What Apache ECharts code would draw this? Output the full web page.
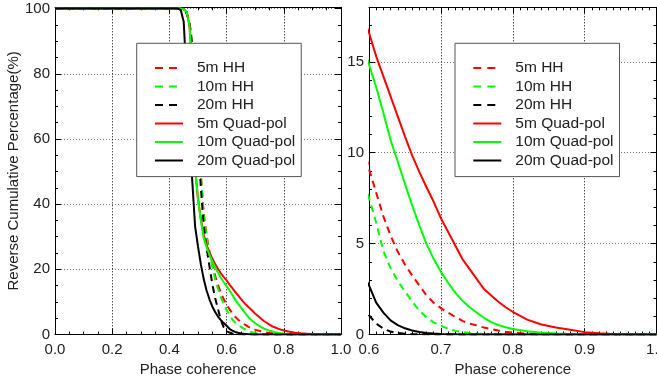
<!DOCTYPE html>
<html><head><meta charset="utf-8">
<script src="https://cdn.jsdelivr.net/npm/echarts@6/dist/echarts.min.js"></script>
<style>html,body{margin:0;padding:0;background:#fff}#c{width:657px;height:384px}</style>
</head><body><div id="c"></div>
<script>
// Phase coherence sample points
const coherence = [0.00,0.42,0.43,0.44,0.45,0.46,0.47,0.48,0.49,0.50,
  0.51,0.52,0.53,0.54,0.55,0.56,0.57,0.58,0.59,0.60,
  0.61,0.62,0.63,0.64,0.65,0.66,0.67,0.68,0.69,0.70,
  0.71,0.72,0.73,0.74,0.75,0.76,0.77,0.78,0.79,0.80,
  0.82,0.84,0.86,0.88,0.90,0.92,0.94,0.96,0.98,1.00];
// Reverse cumulative percentage (%)
const hh5m = [100,100,100,100,99.8,99,96,89,76,62,
  49,37,30.5,25.5,21.5,18,15.2,12.8,10.8,9.1,
  7.8,6.5,5.45,4.55,3.85,3.25,2.7,2.15,1.75,1.45,
  1.2,0.97,0.75,0.6,0.5,0.38,0.3,0.22,0.15,0.1,
  0.05,0.02,0.01,0,0,0,0,0,0,0];
const hh10m = [100,100,100,100,99.8,99,96,89,76,62,
  49,36.5,30,25,20.7,17,14,11.5,9.4,7.5,
  6.15,4.6,3.65,2.95,2.37,1.82,1.31,0.95,0.67,0.48,
  0.32,0.2,0.13,0.08,0.05,0.03,0.02,0.01,0.01,0,
  0,0,0,0,0,0,0,0,0,0];
const hh20m = [100,100,100,100,99.7,98.5,96,88,73,60,
  45,33.5,26.5,21,15.5,11.2,7.8,4.4,2.2,1.05,
  0.6,0.32,0.16,0.08,0.04,0.02,0.01,0.01,0,0,
  0,0,0,0,0,0,0,0,0,0,
  0,0,0,0,0,0,0,0,0,0];
const qp5m = [100,100,100,100,99.8,99,95,82,51,41.5,
  35.5,30.5,27.5,25.2,23.3,21.6,20.1,18.8,17.6,16.6,
  15.3,14.2,13.1,12.0,10.9,9.85,8.95,8.1,7.3,6.4,
  5.65,4.9,4.15,3.6,3.05,2.5,2.15,1.8,1.5,1.25,
  0.82,0.55,0.38,0.26,0.13,0.07,0.03,0.01,0,0];
const qp10m = [100,100,100,100,99.8,99,95,82,51,41.5,
  35,29.5,26.8,24.4,22.4,20.5,19,17.4,16.1,14.85,
  13.6,12.2,10.7,9.5,8.3,7.1,6.0,4.97,4.15,3.45,
  2.85,2.3,1.85,1.5,1.2,0.92,0.68,0.52,0.4,0.3,
  0.18,0.1,0.06,0.03,0.01,0,0,0,0,0];
const qp20m = [100,100,100,99.5,96,79,63,47,33,27,
  21.5,17,13.5,10.8,8.6,6.9,5.5,4.4,3.5,2.7,
  1.75,1.2,0.78,0.52,0.34,0.22,0.14,0.08,0.05,0.03,
  0.02,0.01,0,0,0,0,0,0,0,0,
  0,0,0,0,0,0,0,0,0,0];

const seriesNames = ['5m HH','10m HH','20m HH','5m Quad-pol','10m Quad-pol','20m Quad-pol'];
const seriesValues = [hh5m, hh10m, hh20m, qp5m, qp10m, qp20m];
const seriesColors = ['#ff0000','#00ff00','#000000','#ff0000','#00ff00','#000000'];
const seriesDashed = [true,true,true,false,false,false];

const xTitle = 'Phase coherence';
const yTitle = 'Reverse Cumulative Percentage(%)';
const leftX = {min:0, max:1, interval:0.2, minor:4};
const rightX = {min:0.6, max:1, interval:0.1, minor:10};
const leftY = {min:0, max:100.4, interval:20, minor:4};
const rightY = {min:0, max:18, interval:5, minor:5};

const FONT = '"Liberation Sans", Arial, Helvetica, sans-serif';
const TXT = '#222';

function xAxisCfg(grid, r, pos, labels) {
  return {
    type:'value', gridIndex:grid, position:pos, min:r.min, max:r.max, interval:r.interval,
    axisLine:{show:true, onZero:false, lineStyle:{color:'#000', width:1}},
    axisTick:{show:true, inside:true, length:6, lineStyle:{color:'#000'}},
    minorTick:{show:true, splitNumber:r.minor, length:3, lineStyle:{color:'#000'}},
    splitLine:{show:labels, lineStyle:{type:[1,2], color:'#000', width:1}},
    axisLabel:{show:labels, fontSize:15, fontFamily:FONT, color:TXT, margin:8,
      formatter:v=>v.toFixed(1)},
    name: labels ? xTitle : '', nameLocation:'middle', nameGap:28,
    nameTextStyle:{fontSize:15, fontFamily:FONT, color:TXT}
  };
}
function yAxisCfg(grid, r, pos, labels, withName) {
  return {
    type:'value', gridIndex:grid, position:pos, min:r.min, max:r.max, interval:r.interval,
    axisLine:{show:true, onZero:false, lineStyle:{color:'#000', width:1}},
    axisTick:{show:true, inside:true, length:6, lineStyle:{color:'#000'}},
    minorTick:{show:true, splitNumber:r.minor, length:3, lineStyle:{color:'#000'}},
    splitLine:{show:labels, lineStyle:{type:[1,2], color:'#777', width:1}},
    axisLabel:{show:labels, fontSize:15, fontFamily:FONT, color:TXT, margin:5,
      showMaxLabel:false, formatter:v=>String(Math.round(v))},
    name: withName ? yTitle : '', nameLocation:'middle', nameGap:28,
    nameTextStyle:{fontSize:15, fontFamily:FONT, color:TXT}
  };
}

const series = [];
[0,1].forEach(g => {
  seriesNames.forEach((name, i) => {
    series.push({
      type:'line', name, xAxisIndex:g, yAxisIndex:g,
      data: coherence.map((x, k) => [x, seriesValues[i][k]]),
      symbol:'none', showSymbol:false, clip:true, z:2,
      lineStyle:{color:seriesColors[i], width:2, type: seriesDashed[i] ? [7,5] : 'solid'},
      itemStyle:{color:seriesColors[i]}
    });
  });
});

function legendCfg(left) {
  return {
    show:true, orient:'vertical', left, top:43.3, selectedMode:false,
    data: seriesNames.map((name, i) => ({
      name,
      lineStyle:{color:seriesColors[i], width:2, type: seriesDashed[i] ? [8,6] : 'solid'}
    })),
    itemWidth:28, itemHeight:14, itemGap:2.5,
    padding:[16.7, 6, 8.1, 17.3],
    backgroundColor:'#fff', borderColor:'#555', borderWidth:1, borderRadius:0,
    itemStyle:{color:'rgba(0,0,0,0)', borderWidth:0, opacity:0},
    textStyle:{fontSize:15.5, fontFamily:FONT, color:TXT, padding:[0,0,0,9]}
  };
}

const chart = echarts.init(document.getElementById('c'), null, {renderer:'canvas'});
chart.setOption({
  animation:false,
  backgroundColor:'#fff',
  grid:[
    {left:55, top:7.3, width:286, height:327.2, outerBoundsMode:'none', containLabel:false},
    {left:369, top:7.3, width:287.5, height:327.2, outerBoundsMode:'none', containLabel:false}
  ],
  xAxis:[
    xAxisCfg(0, leftX, 'bottom', true),
    xAxisCfg(1, rightX, 'bottom', true),
    xAxisCfg(0, leftX, 'top', false),
    xAxisCfg(1, rightX, 'top', false)
  ],
  yAxis:[
    yAxisCfg(0, leftY, 'left', true, true),
    yAxisCfg(1, rightY, 'left', true, false),
    yAxisCfg(0, leftY, 'right', false, false),
    yAxisCfg(1, rightY, 'right', false, false)
  ],
  legend:[legendCfg(136.7), legendCfg(455)],
  series
});
</script>
</body></html>
